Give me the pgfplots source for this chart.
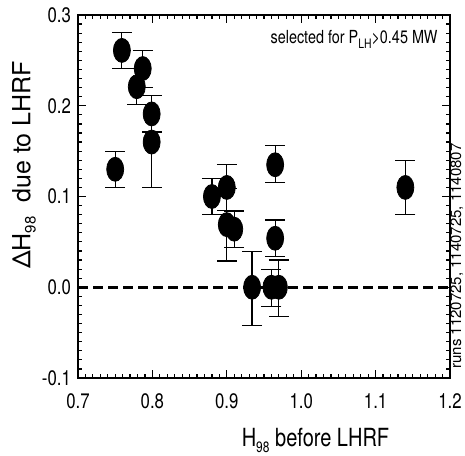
\documentclass[border=0pt]{standalone}
\usepackage{fontspec}
\setmainfont{TeX Gyre Heros}
\newfontfamily\narrow{TeX Gyre Heros}[FakeStretch=0.8]
\usepackage{pgfplots}
\pgfplotsset{compat=1.18}

% filled ellipse marker, taller than wide
\pgfdeclareplotmark{ellip}{%
  \pgfpathellipse{\pgfpointorigin}{\pgfqpoint{4.25pt}{0pt}}{\pgfqpoint{0pt}{6pt}}%
  \pgfusepathqfillstroke}

\pgfplotstableread{
x      y      ep     em
0.750  0.130  0.020  0.020
0.759  0.261  0.020  0.020
0.779  0.221  0.020  0.020
0.787  0.241  0.020  0.021
0.799  0.191  0.020  0.020
0.799  0.160  0.051  0.050
0.880  0.100  0.020  0.020
0.900  0.110  0.025  0.025
0.900  0.069  0.040  0.040
0.910  0.064  0.020  0.020
0.934  0.000  0.039  0.042
0.960  0.000  0.020  0.021
0.970  0.000  0.030  0.032
0.965  0.135  0.021  0.020
0.965  0.054  0.020  0.020
1.140  0.110  0.030  0.030
}\dataH

\begin{document}
\begin{tikzpicture}
\begin{axis}[
    at={(0,0)}, anchor=south west,
    scale only axis,
    width=186pt, height=181.5pt,
    xmin=0.7, xmax=1.2,
    ymin=-0.1, ymax=0.3,
    xtick={0.7,0.8,...,1.2},
    ytick={-0.1,0,0.1,0.2,0.3},
    minor x tick num=9,
    minor y tick num=9,
    tick pos=both,
    tick align=inside,
    major tick length=4pt,
    minor tick length=2pt,
    axis line style={line width=0.9pt},
    every tick/.style={black, line width=0.6pt},
    ticklabel style={font=\narrow\fontsize{10.5}{12}\selectfont},
    xticklabel style={yshift=-4.5pt},
    /pgf/number format/assume math mode=true,
    /pgf/number format/.cd, fixed, fixed zerofill, precision=1,
]
\draw[black, line width=1.5pt, dash pattern=on 5pt off 2.5pt]
    (axis cs:0.7,0) -- (axis cs:1.2,0);
\addplot[
    only marks, black,
    mark=ellip, mark options={fill=black, draw=black},
    error bars/.cd,
      y dir=both, y explicit,
      error bar style={line width=0.6pt, black},
      error mark options={rotate=90, mark size=5pt, line width=0.6pt, black},
] table[x=x, y=y, y error plus=ep, y error minus=em] {\dataH};
\end{axis}

\node[rotate=90, anchor=center, font=\fontsize{12.5}{14}\selectfont]
    at (-27pt,106.5pt) {ΔH\raisebox{-0.4ex}{\fontsize{7.5}{8}\selectfont 98}\ \ due to LHRF};
\node[anchor=base, font=\narrow\fontsize{12.5}{14}\selectfont]
    at (118.75pt,-34pt) {H\raisebox{-0.5ex}{\fontsize{7.5}{8}\selectfont 98} before LHRF};
\node[anchor=base east, inner sep=0pt, font=\narrow\fontsize{9}{10}\selectfont]
    at (180pt,167pt) {selected for P\raisebox{-0.45ex}{\fontsize{6.5}{7}\selectfont LH}>0.45 MW};
\node[rotate=90, anchor=center, inner sep=0pt, font=\fontsize{7.5}{9}\selectfont]
    at (189.5pt,61pt) {runs 1120725, 1140725, 1140807};

\pgfresetboundingbox
\path[use as bounding box] (-39pt,-38.5pt) rectangle (193.5pt,189pt);
\end{tikzpicture}
\end{document}
